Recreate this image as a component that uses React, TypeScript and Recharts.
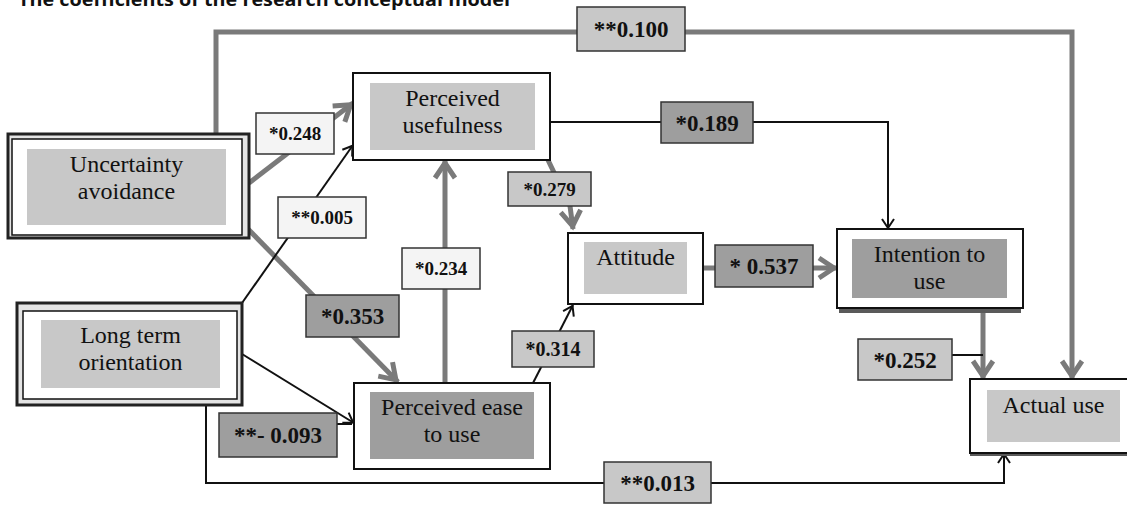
import React from 'react';
import { ComposedChart, XAxis, YAxis, Line, Scatter } from 'recharts';

const titleText = 'The coefficients of the research conceptual model';

// constructs of the model
const nodeIds = ['UA', 'LTO', 'PU', 'PEU', 'ATT', 'ITU', 'AU'];
const nodeLines = [
  ['Uncertainty', 'avoidance'],
  ['Long term', 'orientation'],
  ['Perceived', 'usefulness'],
  ['Perceived ease', 'to use'],
  ['Attitude'],
  ['Intention to', 'use'],
  ['Actual use'],
];

// paths and their coefficients
const pathFrom = ['UA', 'UA', 'UA', 'PEU', 'PU', 'ATT', 'ITU', 'LTO', 'LTO', 'PEU', 'PU', 'LTO'];
const pathTo = ['AU', 'PU', 'PEU', 'PU', 'ATT', 'ITU', 'AU', 'PU', 'PEU', 'ATT', 'ITU', 'AU'];
const coefficients = ['**0.100', '*0.248', '*0.353', '*0.234', '*0.279', '* 0.537', '*0.252', '**0.005', '**- 0.093', '*0.314', '*0.189', '**0.013'];

// ---- layout (chart units = page pixels, y runs downward) ----
const W = 1127;
const H = 505;

const nodeBox = [
  [12, 242, 139, 235],
  [23, 237, 311, 399],
  [353, 550, 73, 160],
  [354, 550, 383, 469],
  [568, 703, 233, 304],
  [837, 1023, 229, 308],
  [970, 1140, 379, 453],
];
const nodeOuter = [[8, 249, 134, 238], [17, 242, 303, 405], null, null, null, null, null];
const nodeShadow = [null, null, null, null, null, [839, 1021, 306, 313], [970, 1140, 450, 456]];
const nodeInner = [
  [27, 226, 149, 225],
  [41, 220, 320, 388],
  [370, 535, 83, 150],
  [370, 534, 392, 459],
  [584, 687, 242, 294],
  [852, 1007, 239, 298],
  [987, 1120, 390, 442],
];
const nodeTone = ['light', 'light', 'light', 'dark', 'light', 'dark', 'light'];

const pathRoute = [
  [[216, 134], [216, 32], [1072, 32], [1072, 379]],
  [[249, 183], [353, 103]],
  [[247, 228], [398, 382]],
  [[445, 383], [445, 160]],
  [[548, 160], [570, 206], [573, 229]],
  [[703, 268], [837, 268]],
  [[983, 313], [983, 379]],
  [[242, 303], [353, 145]],
  [[242, 354], [354, 423]],
  [[533, 383], [573, 305]],
  [[550, 122], [888, 122], [888, 229]],
  [[206, 405], [206, 483], [1004, 483], [1004, 453]],
];
const pathWeight = ['thick', 'thick', 'thick', 'thick', 'thick', 'thick', 'thick', 'thin', 'thin', 'thin', 'thin', 'thin'];
const connectors = [
  [[952, 355], [983, 355]],
  [[337, 424], [352, 424]],
];

const labelBox = [
  [577, 685, 7, 51],
  [256, 334, 113, 154],
  [306, 399, 295, 337],
  [402, 480, 248, 289],
  [508, 591, 172, 206],
  [715, 813, 245, 287],
  [858, 952, 339, 380],
  [278, 366, 197, 238],
  [219, 337, 413, 457],
  [512, 594, 331, 367],
  [661, 753, 102, 143],
  [604, 711, 462, 503],
];
const labelTone = ['light', 'white', 'dark', 'white', 'light', 'dark', 'light', 'white', 'dark', 'light', 'dark', 'light'];
const labelFont = [23, 19, 23, 19, 19, 23, 23, 19, 23, 20, 23, 23];

const tones: Record<string, string> = { light: '#c8c8c8', dark: '#9e9e9e', white: '#f4f4f4' };
const serif = "'Liberation Serif', 'Times New Roman', serif";
const thickColor = '#7a7a7a';
const thinColor = '#111';

// rectangles drawn in order: frames, node fills, then coefficient boxes
type RectItem = {
  x: number; y: number; w: number; h: number;
  fill: string; stroke?: string; sw?: number;
  lines?: string[]; value?: string; fontSize?: number;
};
const asRect = (b: number[], rest: Omit<RectItem, 'x' | 'y' | 'w' | 'h'>): RectItem => ({
  x: (b[0] + b[1]) / 2,
  y: (b[2] + b[3]) / 2,
  w: b[1] - b[0],
  h: b[3] - b[2],
  ...rest,
});

const rectItems: RectItem[] = [];
nodeIds.forEach((id, i) => {
  const s = nodeShadow[i];
  const o = nodeOuter[i];
  if (s) rectItems.push(asRect(s, { fill: '#5a5a5a' }));
  if (o) rectItems.push(asRect(o, { fill: '#e4e4e4', stroke: '#222', sw: 3 }));
  rectItems.push(asRect(nodeBox[i], { fill: '#fff', stroke: '#111', sw: o ? 1.5 : 2 }));
  rectItems.push(asRect(nodeInner[i], { fill: tones[nodeTone[i]], lines: nodeLines[i] }));
});
coefficients.forEach((c, i) => {
  rectItems.push(asRect(labelBox[i], { fill: tones[labelTone[i]], stroke: '#333', sw: 1.5, value: c, fontSize: labelFont[i] }));
});

const arrowTips = pathRoute.map((r, i) => {
  const end = r[r.length - 1];
  const prev = r[r.length - 2];
  return { x: end[0], y: end[1], px: prev[0], py: prev[1], weight: pathWeight[i], id: `${pathFrom[i]}-${pathTo[i]}` };
});

const ArrowTip = (props: any) => {
  const { cx, cy, payload } = props;
  const a = (Math.atan2(payload.y - payload.py, payload.x - payload.px) * 180) / Math.PI;
  const thick = payload.weight === 'thick';
  const l = thick ? 15 : 9;
  const w = thick ? 10 : 6;
  const back = thick ? 3 : 1;
  return (
    <path
      d={`M ${-l - back} ${-w} L ${-back} 0 L ${-l - back} ${w}`}
      transform={`translate(${cx},${cy}) rotate(${a})`}
      fill="none"
      stroke={thick ? thickColor : thinColor}
      strokeWidth={thick ? 5 : 2}
    />
  );
};

const RectShape = (props: any) => {
  const { cx, cy, payload } = props;
  const p: RectItem = payload;
  const left = cx - p.w / 2;
  const top = cy - p.h / 2;
  return (
    <g>
      <rect x={left} y={top} width={p.w} height={p.h} fill={p.fill} stroke={p.stroke || 'none'} strokeWidth={p.sw || 0} />
      {p.lines && (
        <text textAnchor="middle" fontFamily={serif} fontSize={24} fill="#111">
          {p.lines.map((t, i) => (
            <tspan key={i} x={cx} y={top + 23 + i * 27}>
              {t}
            </tspan>
          ))}
        </text>
      )}
      {p.value && (
        <text x={cx} y={cy + (p.fontSize || 20) * 0.35} textAnchor="middle" fontFamily={serif} fontWeight="bold" fontSize={p.fontSize} fill="#111">
          {p.value}
        </text>
      )}
    </g>
  );
};

const toPoints = (r: number[][]) => r.map(([x, y]) => ({ x, y }));

export default function App() {
  return (
    <div style={{ position: 'absolute', left: 0, top: 0, width: W, height: H, background: '#fff' }}>
      <ComposedChart width={W} height={H} margin={{ top: 0, right: 0, bottom: 0, left: 0 }}>
        <XAxis type="number" dataKey="x" domain={[0, W]} hide allowDataOverflow />
        <YAxis type="number" dataKey="y" domain={[0, H]} reversed hide allowDataOverflow />

        {pathRoute.map((r, i) => (
          <Line
            key={`p${i}`}
            data={toPoints(r)}
            dataKey="y"
            type="linear"
            stroke={pathWeight[i] === 'thick' ? thickColor : thinColor}
            strokeWidth={pathWeight[i] === 'thick' ? 5 : 2}
            dot={false}
            activeDot={false}
            isAnimationActive={false}
          />
        ))}
        {connectors.map((r, i) => (
          <Line
            key={`c${i}`}
            data={toPoints(r)}
            dataKey="y"
            type="linear"
            stroke={thinColor}
            strokeWidth={2}
            dot={false}
            activeDot={false}
            isAnimationActive={false}
          />
        ))}

        <Scatter data={arrowTips} dataKey="y" shape={ArrowTip} isAnimationActive={false} />
        <Scatter data={rectItems} dataKey="y" shape={RectShape} isAnimationActive={false} />
      </ComposedChart>
      <svg width={W} height={20} style={{ position: 'absolute', left: 0, top: 0 }}>
        <text
          x={18}
          y={6}
          fontFamily="'Open Sans', 'Liberation Sans', sans-serif"
          fontWeight="bold"
          fontSize={17}
          textLength={492}
          lengthAdjust="spacingAndGlyphs"
          fill="#111"
        >
          {titleText}
        </text>
      </svg>
    </div>
  );
}
